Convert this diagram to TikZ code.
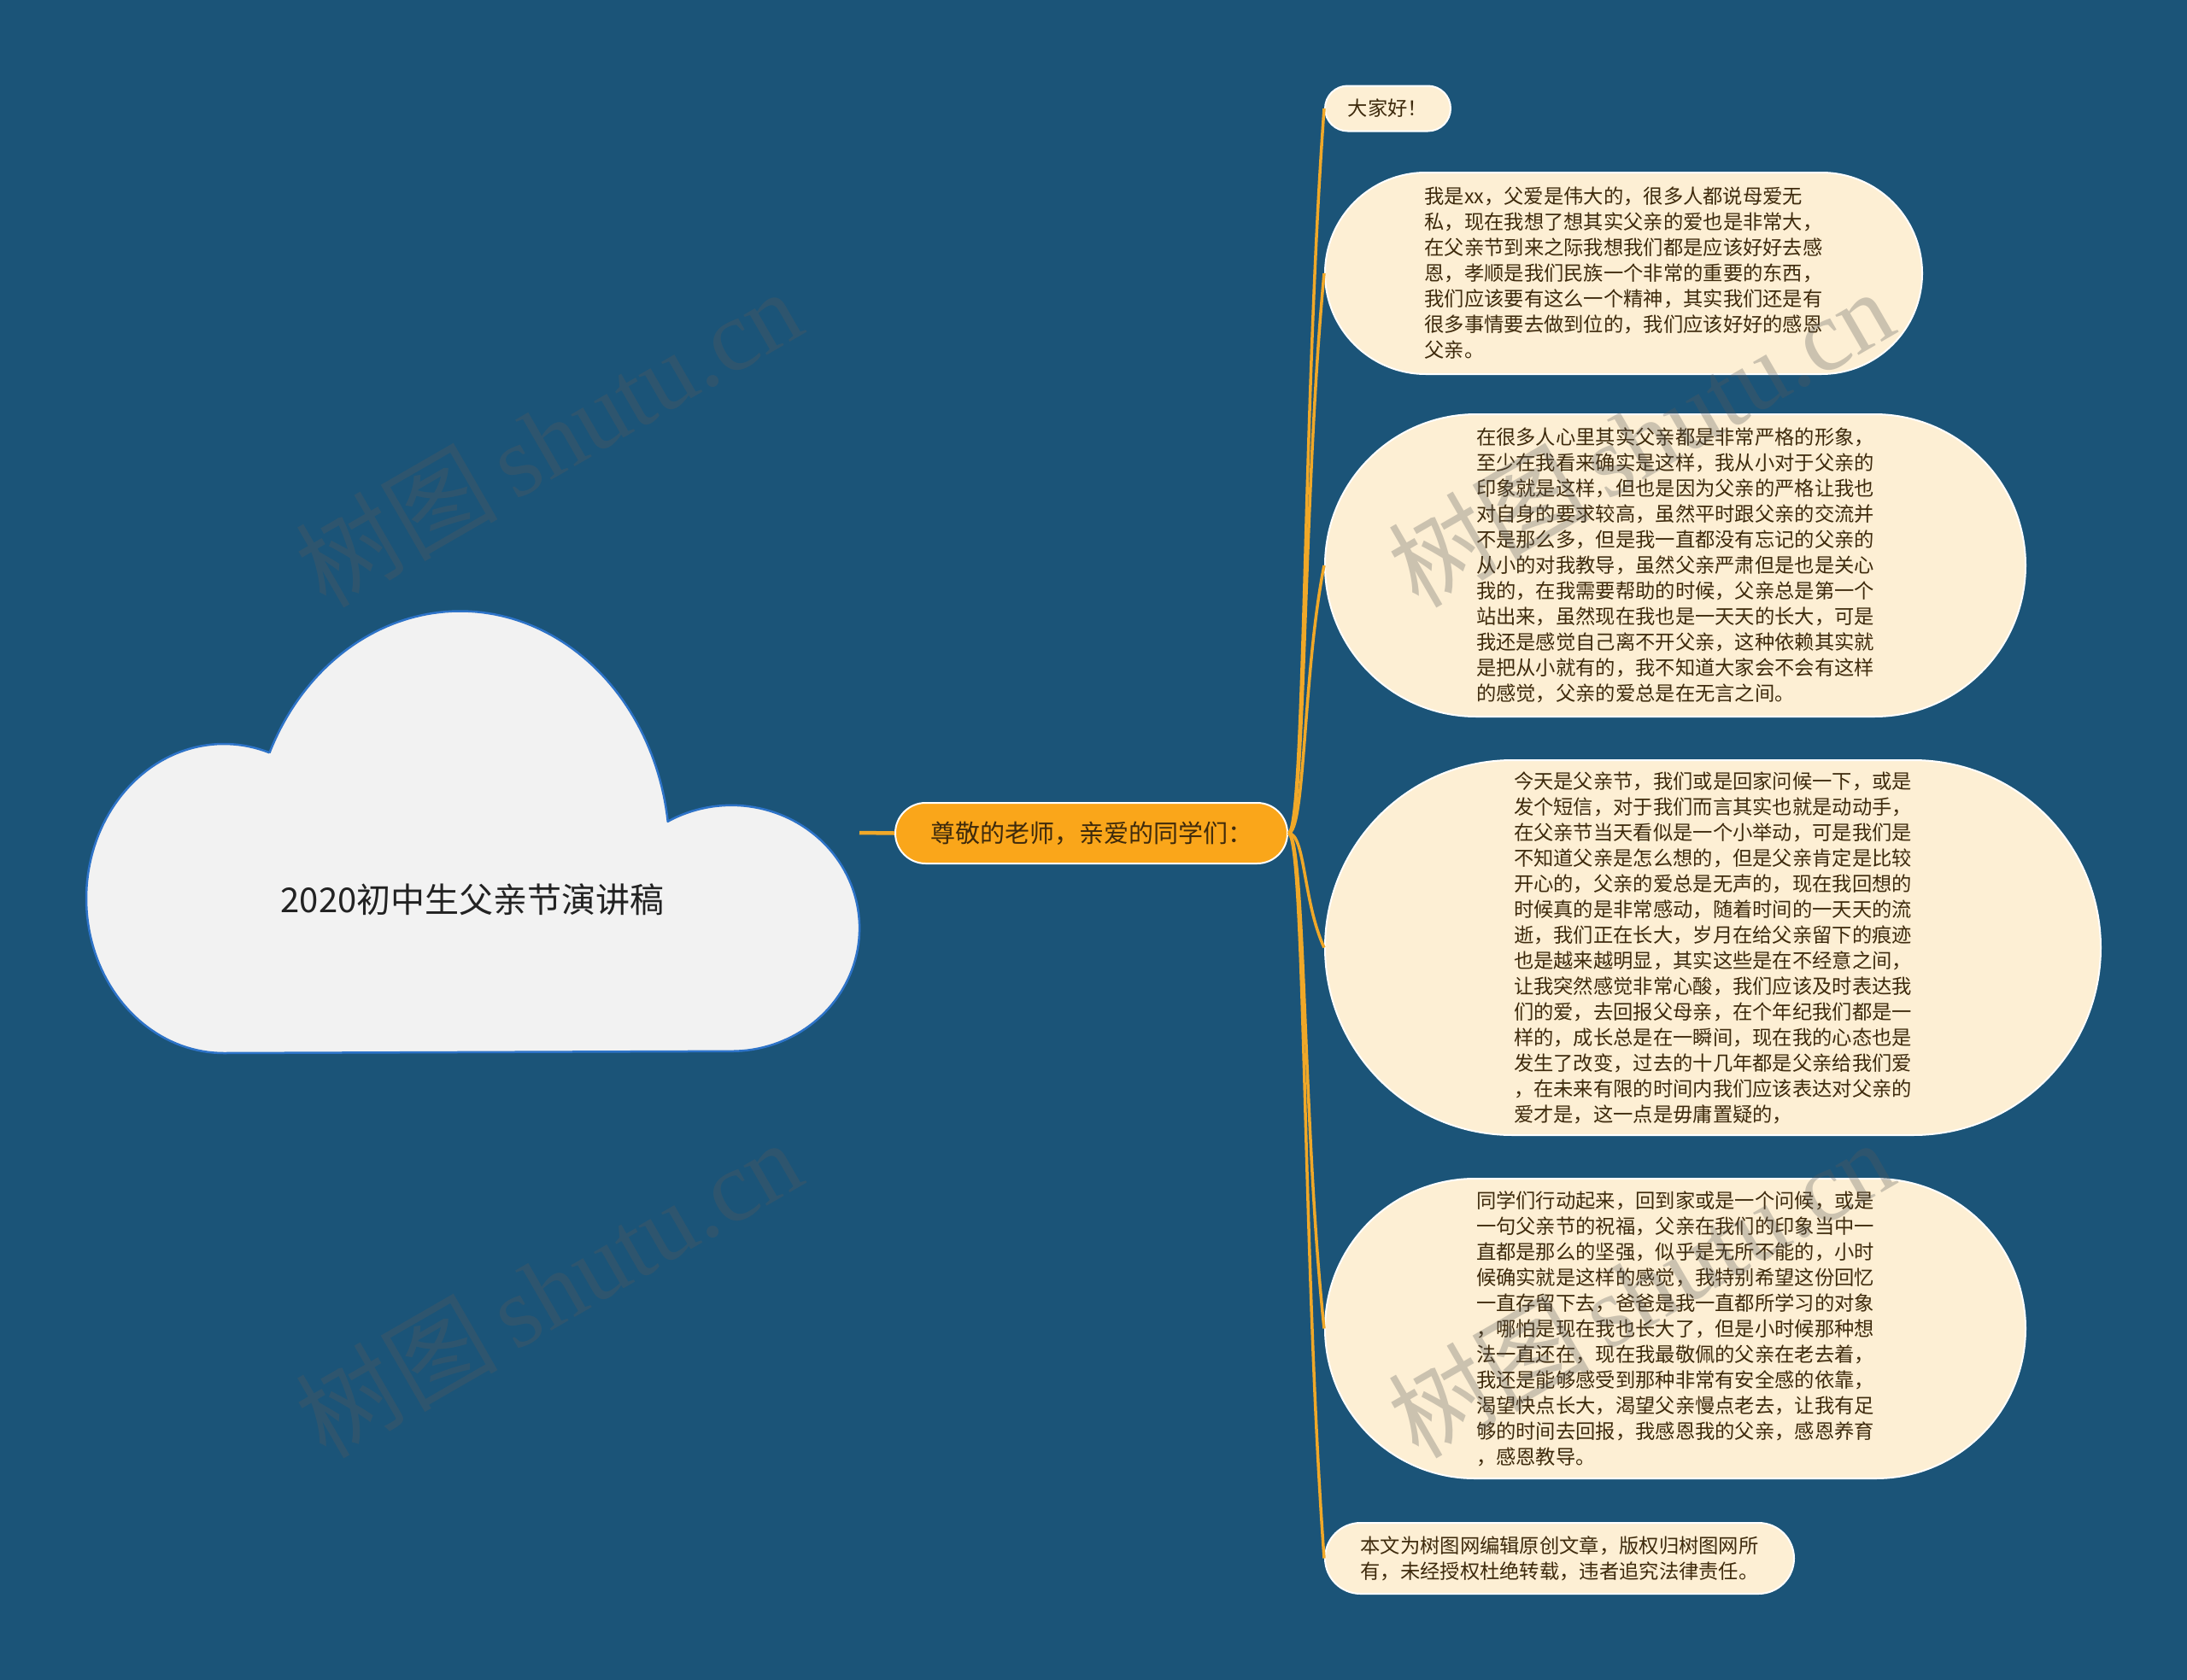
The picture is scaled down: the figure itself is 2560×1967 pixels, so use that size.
\documentclass[tikz,border=0pt]{standalone}
\usepackage{fontspec}
\setmainfont{Noto Sans CJK SC}
\newfontfamily\cjk{Noto Sans CJK SC}
\newfontfamily\wmserif{Liberation Serif}
\definecolor{bgblue}{RGB}{27,84,120}
\definecolor{leaffill}{RGB}{253,239,212}
\definecolor{leaftext}{RGB}{62,42,12}
\definecolor{rootfill}{RGB}{250,166,26}
\definecolor{linkorange}{RGB}{240,168,40}
\definecolor{cloudfill}{RGB}{242,242,242}
\definecolor{cloudline}{RGB}{45,115,200}
\definecolor{wmgray}{RGB}{90,90,90}
\begin{document}
\begin{tikzpicture}[x=1pt,y=-1pt,
  leaf/.style={draw=white, line width=2pt, fill=leaffill, text=leaftext,
    align=left, inner sep=0pt, font={\cjk\fontsize{23.3}{30}\selectfont}},
  rootbox/.style={draw=white, line width=2pt, fill=rootfill, text=leaftext,
    inner sep=0pt, font={\cjk\fontsize{29}{34}\selectfont}},
  link/.style={draw=linkorange, line width=3.5pt},
  wm/.style={rotate=30, text=wmgray, text opacity=0.3, inner sep=0pt}
]
\useasboundingbox (0,0) rectangle (2560,1967);
\fill[bgblue] (0,0) rectangle (2560,1967);

% cloud
\draw[fill=cloudfill, draw=cloudline, line width=2.5pt]
  plot[domain=90:289.4, samples=90] ({262+161*cos(\x)},{1052+181*sin(\x)})
  -- plot[domain=204.3:352.7, samples=90] ({538.7+245*cos(\x)},{997.5+282*sin(\x)})
  -- plot[domain=240.3:450, samples=90] ({856.1+150*cos(\x)},{1086.8+144*sin(\x)})
  -- cycle;
\node[font={\cjk\fontsize{40}{46}\selectfont}, text={rgb,255:red,34;green,34;blue,34}, inner sep=0pt] (title) at (553,1053) {2020初中生父亲节演讲稿};
\coordinate (cloudE) at (1006,975);

% root
\node[rootbox, minimum width=459pt, minimum height=71pt, rounded corners=35.5pt] (root) at (1277.5,975.5) {尊敬的老师，亲爱的同学们：};

% leaves
\node[leaf, minimum width=147pt, minimum height=53pt, rounded corners=26.5pt] (l1) at (1624.5,127) {大家好！};

\node[leaf, minimum width=699pt, minimum height=236pt, rounded corners=118pt] (l2) at (1900.5,320) {我是xx，父爱是伟大的，很多人都说母爱无\\私，现在我想了想其实父亲的爱也是非常大，\\在父亲节到来之际我想我们都是应该好好去感\\恩，孝顺是我们民族一个非常的重要的东西，\\我们应该要有这么一个精神，其实我们还是有\\很多事情要去做到位的，我们应该好好的感恩\\父亲。};

\node[leaf, minimum width=820pt, minimum height=354pt, rounded corners=177pt] (l3) at (1961,662) {在很多人心里其实父亲都是非常严格的形象，\\至少在我看来确实是这样，我从小对于父亲的\\印象就是这样，但也是因为父亲的严格让我也\\对自身的要求较高，虽然平时跟父亲的交流并\\不是那么多，但是我一直都没有忘记的父亲的\\从小的对我教导，虽然父亲严肃但是也是关心\\我的，在我需要帮助的时候，父亲总是第一个\\站出来，虽然现在我也是一天天的长大，可是\\我还是感觉自己离不开父亲，这种依赖其实就\\是把从小就有的，我不知道大家会不会有这样\\的感觉，父亲的爱总是在无言之间。};

\node[leaf, minimum width=908pt, minimum height=439pt, rounded corners=219.5pt] (l4) at (2005,1109.5) {今天是父亲节，我们或是回家问候一下，或是\\发个短信，对于我们而言其实也就是动动手，\\在父亲节当天看似是一个小举动，可是我们是\\不知道父亲是怎么想的，但是父亲肯定是比较\\开心的，父亲的爱总是无声的，现在我回想的\\时候真的是非常感动，随着时间的一天天的流\\逝，我们正在长大，岁月在给父亲留下的痕迹\\也是越来越明显，其实这些是在不经意之间，\\让我突然感觉非常心酸，我们应该及时表达我\\们的爱，去回报父母亲，在个年纪我们都是一\\样的，成长总是在一瞬间，现在我的心态也是\\发生了改变，过去的十几年都是父亲给我们爱\\，在未来有限的时间内我们应该表达对父亲的\\爱才是，这一点是毋庸置疑的，};

\node[leaf, minimum width=820pt, minimum height=351pt, rounded corners=175.5pt] (l5) at (1961,1555.5) {同学们行动起来，回到家或是一个问候，或是\\一句父亲节的祝福，父亲在我们的印象当中一\\直都是那么的坚强，似乎是无所不能的，小时\\候确实就是这样的感觉，我特别希望这份回忆\\一直存留下去，爸爸是我一直都所学习的对象\\，哪怕是现在我也长大了，但是小时候那种想\\法一直还在，现在我最敬佩的父亲在老去着，\\我还是能够感受到那种非常有安全感的依靠，\\渴望快点长大，渴望父亲慢点老去，让我有足\\够的时间去回报，我感恩我的父亲，感恩养育\\，感恩教导。};

\node[leaf, minimum width=549pt, minimum height=83pt, rounded corners=41.5pt] (l6) at (1825.5,1824.5) {本文为树图网编辑原创文章，版权归树图网所\\有，未经授权杜绝转载，违者追究法律责任。};

% connectors
\draw[draw=linkorange, line width=4.5pt] (cloudE) -- (root.west);
\draw[link] (root.east) .. controls +(20,0) and +(-25,339) .. (l1.west);
\draw[link] (root.east) .. controls +(20,0) and +(-25,262) .. (l2.west);
\draw[link] (root.east) .. controls +(20,0) and +(-25,125) .. (l3.west);
\draw[link] (root.east) .. controls +(20,0) and +(-25,-54) .. (l4.west);
\draw[link] (root.east) .. controls +(20,0) and +(-25,-232) .. (l5.west);
\draw[link] (root.east) .. controls +(20,0) and +(-25,-340) .. (l6.west);

% watermarks
\node[wm] (wm1) at (642,512) {\cjk\fontsize{118}{126}\selectfont 树图\,\wmserif shutu.cn};
\node[wm] (wm2) at (1920,512) {\cjk\fontsize{118}{126}\selectfont 树图\,\wmserif shutu.cn};
\node[wm] (wm3) at (642,1508) {\cjk\fontsize{118}{126}\selectfont 树图\,\wmserif shutu.cn};
\node[wm] (wm4) at (1920,1508) {\cjk\fontsize{118}{126}\selectfont 树图\,\wmserif shutu.cn};
\end{tikzpicture}
\end{document}
